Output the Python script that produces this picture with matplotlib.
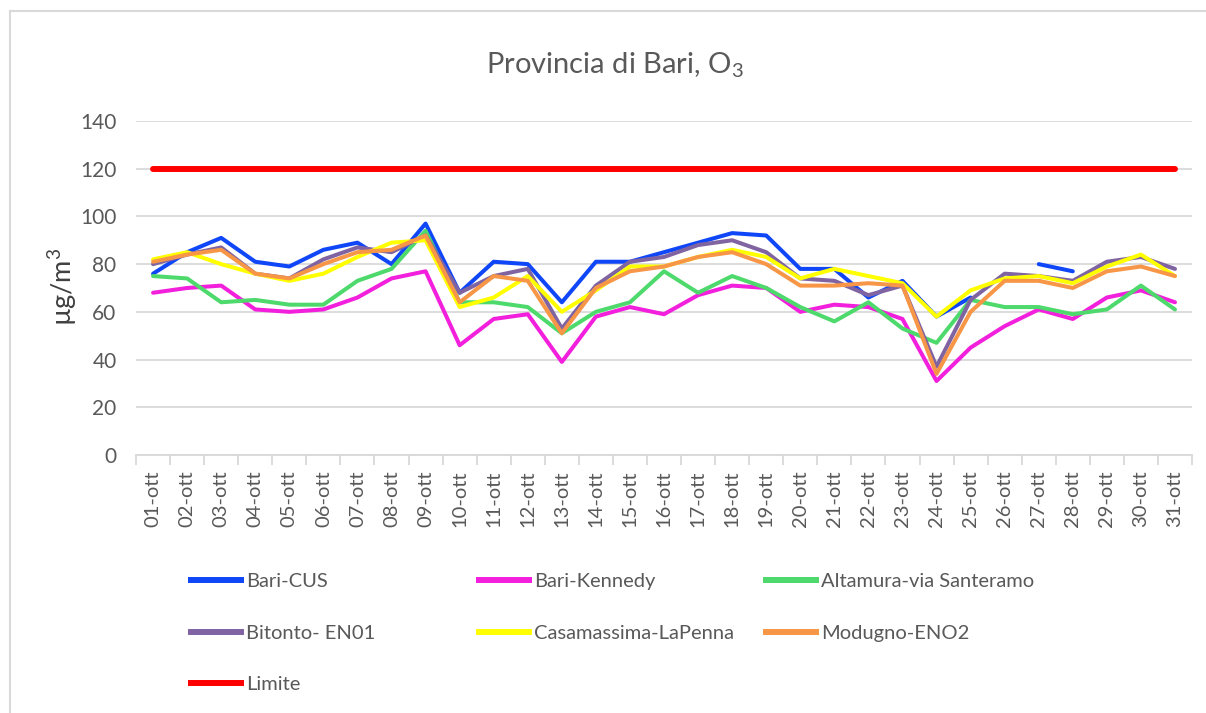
# Ozone chart - Provincia di Bari, October
import numpy as np
import matplotlib.pyplot as plt
from matplotlib.lines import Line2D

plt.rcParams['font.family'] = ['Lato', 'DejaVu Sans']
plt.rcParams['mathtext.fontset'] = 'custom'
plt.rcParams['mathtext.rm'] = 'Lato'

# data
days = ["%02d-ott" % d for d in range(1, 32)]
nan = np.nan
bari_cus = [76, 85, 91, 81, 79, 86, 89, 80, 97, 68, 81, 80, 64, 81, 81, 85, 89, 93, 92, 78, 78, 66, 73, 58, 66,
            nan, 80, 77, nan, nan, nan]
bari_kennedy = [68, 70, 71, 61, 60, 61, 66, 74, 77, 46, 57, 59, 39, 58, 62, 59, 67, 71, 70, 60, 63, 62, 57, 31, 45,
                54, 61, 57, 66, 69, 64]
altamura = [75, 74, 64, 65, 63, 63, 73, 78, 94, 64, 64, 62, 51, 60, 64, 77, 68, 75, 70, 62, 56, 64, 53, 47, 65,
            62, 62, 59, 61, 71, 61]
bitonto = [80, 84, 87, 76, 74, 82, 87, 85, 92, 68, 75, 78, 53, 71, 81, 83, 88, 90, 85, 74, 73, 67, 71, 37, 65,
           76, 75, 73, 81, 83, 78]
casamassima = [82, 85, 80, 76, 73, 76, 83, 89, 90, 62, 66, 75, 60, 69, 79, 79, 83, 86, 83, 74, 78, 75, 72, 58, 69,
               74, 75, 72, 79, 84, 75]
modugno = [81, 84, 86, 76, 74, 80, 85, 86, 92, 64, 75, 73, 51, 70, 77, 79, 83, 85, 80, 71, 71, 72, 71, 34, 60,
           73, 73, 70, 77, 79, 75]
limite = [120] * 31

series = [
    ("Bari-CUS", bari_cus, "#0F46F7", 2.9),
    ("Bari-Kennedy", bari_kennedy, "#F21FDC", 2.9),
    ("Altamura-via Santeramo", altamura, "#4DD96B", 2.9),
    ("Bitonto- EN01", bitonto, "#8064A2", 2.9),
    ("Casamassima-LaPenna", casamassima, "#FFFF00", 2.9),
    ("Modugno-ENO2", modugno, "#F79646", 2.9),
    ("Limite", limite, "#FF0000", 4.3),
]

grey = "#595959"
fig = plt.figure(figsize=(12.06, 7.13), dpi=100)
ax = fig.add_axes([0.1128, 0.3619, 0.8756, 0.4684])

x = np.arange(1, 32)
handles = {}
for name, vals, col, lw in series:
    ln, = ax.plot(x, vals, color=col, lw=lw, solid_capstyle='round', solid_joinstyle='round', label=name)
    handles[name] = ln

ax.set_xlim(0.5, 31.5)
ax.set_ylim(0, 140)
ax.set_yticks(range(0, 141, 20))
ax.yaxis.grid(True, color="#D9D9D9", lw=1.3)
ax.set_axisbelow(True)
ax.set_xticks(x)
ax.set_xticklabels(days, rotation=90, fontsize=14.5, color=grey)
ax.set_xticks(np.arange(0.5, 32, 1), minor=True)
ax.tick_params(axis='x', which='major', length=0, pad=11)
ax.tick_params(axis='x', which='minor', length=7, color="#D9D9D9", width=1.3)
ax.tick_params(axis='y', length=0, pad=14, labelsize=15, labelcolor=grey)
for s in ['top', 'right', 'left']:
    ax.spines[s].set_visible(False)
ax.spines['bottom'].set_color("#D9D9D9")
ax.spines['bottom'].set_linewidth(1.3)

fig.text(0.51, 0.909, r"Provincia di Bari, O$_\mathregular{3}$", ha='center', va='center',
         fontsize=21, color=grey)
fig.text(0.052, 0.598, r"µg/m$^\mathregular{3}$", rotation=90, ha='center', va='center',
         fontsize=19.5, color="#404040")

# legend in three columns like the original
cols = [["Bari-CUS", "Bitonto- EN01", "Limite"],
        ["Bari-Kennedy", "Casamassima-LaPenna"],
        ["Altamura-via Santeramo", "Modugno-ENO2"]]
xs = [0.158, 0.397, 0.635]
for names, xp in zip(cols, xs):
    hs = [Line2D([], [], color=handles[n].get_color(), lw=4.3) for n in names]
    fig.legend(hs, names, loc='upper left', bbox_to_anchor=(xp, 0.196),
               bbox_transform=fig.transFigure, frameon=False, fontsize=14.5,
               labelcolor=grey, handlelength=2.5, handletextpad=0.25,
               labelspacing=1.7, borderaxespad=0, borderpad=0)

# chart frame (top and left edges visible)
fig.add_artist(Line2D([0.0083, 1.0], [0.9846, 0.9846], color="#D9D9D9", lw=1.5, transform=fig.transFigure))
fig.add_artist(Line2D([0.0083, 0.0083], [0.0, 0.9846], color="#D9D9D9", lw=1.5, transform=fig.transFigure))

fig.savefig("out.png", dpi=100)
